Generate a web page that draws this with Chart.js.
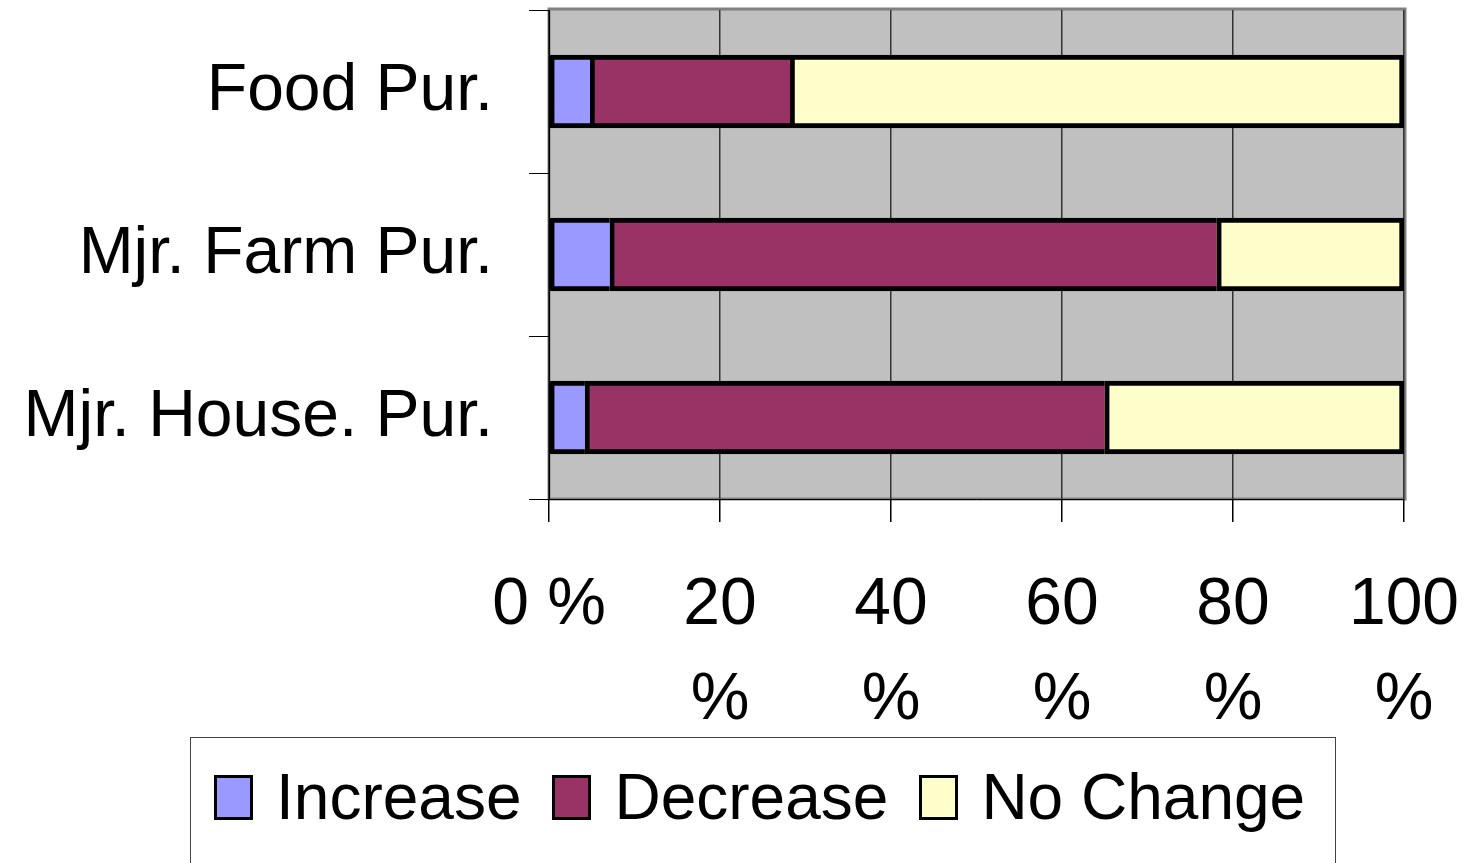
<!DOCTYPE html>
<html>
<head>
<meta charset="utf-8">
<script src="https://cdn.jsdelivr.net/npm/chart.js@4"></script>
<style>
  html, body { margin: 0; padding: 0; background: #fff; overflow: hidden; }
  #wrap { position: relative; width: 1468px; height: 863px; }
  #legend {
    position: absolute; left: 190px; top: 737px; width: 1146px; height: 140px;
    border: 1px solid #444; box-sizing: border-box;
    display: flex; align-items: flex-start; padding: 22px 0 0 23px;
    font-family: 'Liberation Sans', Arial, sans-serif; font-size: 64px; color: #000;
  }
  .item { display: flex; align-items: center; margin-right: 31px; line-height: 74px;
          white-space: nowrap; flex-shrink: 0; }
  .swatch { width: 33px; height: 39px; border: 3px solid #000; margin-right: 23px; }
</style>
</head>
<body>
<div id="wrap">
  <canvas id="chart" width="1468" height="863"></canvas>
  <div id="legend"></div>
</div>
<script>
// categories and series (percent of respondents)
const categories = ['Food Pur.', 'Mjr. Farm Pur.', 'Mjr. House. Pur.'];
const seriesNames = ['Increase', 'Decrease', 'No Change'];
const increase = [4.8, 7.1, 4.2];
const decrease = [23.4, 71.0, 60.8];
const noChange = [71.8, 21.9, 35.0];
const xTickLabels = ['0 %', ['20', '%'], ['40', '%'], ['60', '%'], ['80', '%'], ['100', '%']];

const colors = ['#9999FF', '#993366', '#FFFFCC'];
const FONT = "'Liberation Sans', Arial, sans-serif";

const series = [increase, decrease, noChange];
const datasets = series.map((vals, i) => ({
    label: seriesNames[i],
    data: vals,
    backgroundColor: colors[i],
    borderColor: '#000',
    borderWidth: { top: 5, bottom: 5, left: 5, right: i === series.length - 1 ? 5 : 0 },
    borderSkipped: false,
    barThickness: 73
}));

// gray plot area with a gray frame, like the old spreadsheet chart
const plotBackground = {
    id: 'plotBackground',
    beforeDraw(chart) {
        const { ctx, chartArea: a } = chart;
        ctx.save();
        ctx.fillStyle = '#C0C0C0';
        ctx.fillRect(a.left, a.top, a.right - a.left, a.bottom - a.top);
        ctx.strokeStyle = '#808080';
        ctx.lineWidth = 3;
        ctx.strokeRect(a.left, a.top - 1, a.right - a.left + 1, a.bottom - a.top + 1);
        ctx.restore();
    }
};

new Chart(document.getElementById('chart'), {
    type: 'bar',
    data: { labels: categories, datasets: datasets },
    options: {
        indexAxis: 'y',
        responsive: false,
        animation: false,
        layout: { padding: { top: 10, right: 64 } },
        scales: {
            x: {
                stacked: true,
                min: 0,
                max: 100,
                afterFit(scale) {
                    scale.height = 863 - 499;
                    scale.paddingLeft = 0;
                    scale.paddingRight = 0;
                },
                ticks: {
                    stepSize: 20,
                    color: '#000',
                    padding: 36,
                    maxRotation: 0,
                    autoSkip: false,
                    font: { family: FONT, size: 66, lineHeight: 1.44 },
                    callback: (v, i) => xTickLabels[i]
                },
                grid: { color: '#333', lineWidth: 1.5, tickLength: 23, tickColor: '#000' },
                border: { color: '#000', width: 1 }
            },
            y: {
                stacked: true,
                afterFit(scale) {
                    scale.width = 549;
                    scale.paddingTop = 0;
                    scale.paddingBottom = 0;
                },
                ticks: {
                    color: '#000',
                    padding: 36,
                    font: { family: FONT, size: 66 }
                },
                grid: { drawOnChartArea: false, tickLength: 20, color: '#000', offset: true },
                border: { color: '#000', width: 1 }
            }
        },
        plugins: {
            legend: { display: false },
            tooltip: { enabled: false }
        }
    },
    plugins: [plotBackground]
});

// legend built from the same series names and colours
const legendEl = document.getElementById('legend');
seriesNames.forEach((name, i) => {
    const item = document.createElement('div');
    item.className = 'item';
    const sw = document.createElement('span');
    sw.className = 'swatch';
    sw.style.background = colors[i];
    const txt = document.createElement('span');
    txt.textContent = name;
    item.appendChild(sw);
    item.appendChild(txt);
    legendEl.appendChild(item);
});
</script>
</body>
</html>
